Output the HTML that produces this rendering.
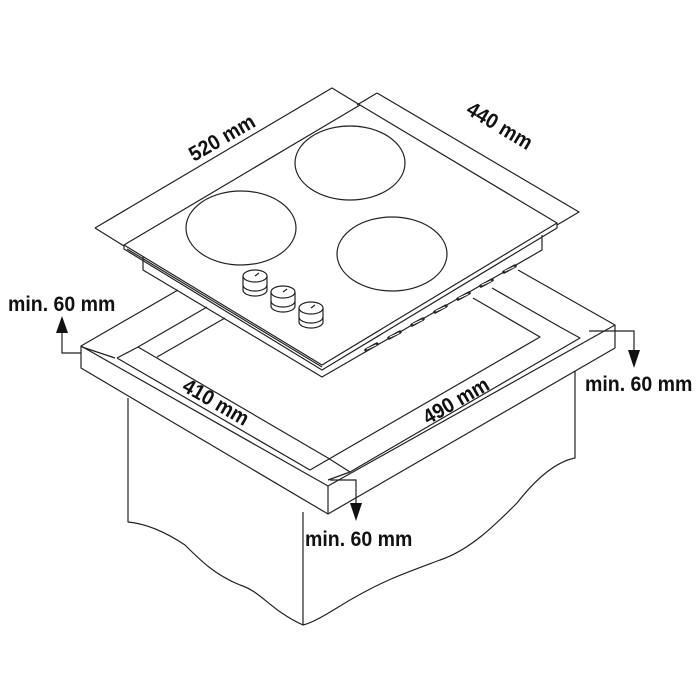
<!DOCTYPE html>
<html><head><meta charset="utf-8"><style>
html,body{margin:0;padding:0;background:#fff;}
svg{display:block;}
text{font-family:"Liberation Sans",sans-serif;font-weight:bold;fill:#111;}
</style></head><body>
<svg width="700" height="700" viewBox="0 0 700 700" xmlns="http://www.w3.org/2000/svg">
<g fill="none" stroke="#222" stroke-width="1.2" stroke-linejoin="round">
<!-- cabinet -->
<path d="M128,398 L128,522 C150,524 170,535 185,545 C200,560 215,575 240,585 C262,592 270,610 303,625 L303,512"/>
<path d="M575,347 L575,458 C555,462 535,480 517,503 C495,525 470,550 440,560 C400,575 385,580 350,600 C330,612 315,622 303,625"/>
<!-- countertop -->
<path d="M81,346 L328,486 L615,325 L615,348 L328,514 L81,368 Z" fill="#fff"/>
<path d="M328,486 L328,514"/>
<path d="M81,346 L178,290"/>
<path d="M615,325 L518,270"/>
<!-- left side -->
<path d="M82,347 L115,358"/>
<path d="M138,347 L207,307"/>
<path d="M157,357 L225,318"/>
<path d="M117,358 L138,347"/>
<path d="M117,358 L310,470 L540,337 L473,298"/>
<path d="M138,347 L328,458 L350,472"/>
<!-- right side -->
<path d="M560,327 L492,288"/>
<path d="M350,472 L580,338 L560,327"/>
<path d="M328,480 L350,472"/>
<!-- hob -->
<path d="M143,255 L143,270 L322,377 L542,250 L542,235"/>
<path d="M124,245 L360,105 L557,223 L322,365 Z" fill="#fff"/>
<path d="M124,245 L124,249 L322,370 L557,228 L557,223"/>
<path d="M127,249 L322,367"/>
<!-- burners -->
<ellipse cx="350" cy="163" rx="55" ry="37"/>
<ellipse cx="241" cy="228" rx="55" ry="37"/>
<ellipse cx="392" cy="254" rx="55" ry="37"/>
<!-- dim lines -->
<path d="M95,228 L332,88 L360,105"/>
<path d="M95,228 L124,246"/>
<path d="M377,93 L579,212 L557,225"/>
<path d="M377,93 L357,105"/>
</g>
<!-- knobs -->
<g fill="#fff" stroke="#222" stroke-width="1.2">
<g transform="translate(255,276)"><path d="M-12,0 L-12,14 A12,6 0 0 0 12,14 L12,0"/><path d="M-12,9 A12,6 0 0 0 12,9" fill="none"/><ellipse cx="0" cy="0" rx="12" ry="6"/><path d="M0,0 L4,-3"/></g>
<g transform="translate(283,292)"><path d="M-12,0 L-12,14 A12,6 0 0 0 12,14 L12,0"/><path d="M-12,9 A12,6 0 0 0 12,9" fill="none"/><ellipse cx="0" cy="0" rx="12" ry="6"/><path d="M0,0 L4,-3"/></g>
<g transform="translate(311,308)"><path d="M-12,0 L-12,14 A12,6 0 0 0 12,14 L12,0"/><path d="M-12,9 A12,6 0 0 0 12,9" fill="none"/><ellipse cx="0" cy="0" rx="12" ry="6"/><path d="M0,0 L4,-3"/></g>
</g>
<!-- vents -->
<g stroke="#222" stroke-width="3.4" stroke-linecap="round">
<path d="M366,350 L377,344"/><path d="M389,338 L400,332"/><path d="M412,325 L423,319"/><path d="M435,312 L446,306"/><path d="M458,299 L469,293"/><path d="M481,286 L492,280"/><path d="M504,272 L515,266"/>
</g>
<g stroke="#fff" stroke-width="1" stroke-linecap="round">
<path d="M367,349 L376,345"/><path d="M390,337 L399,333"/><path d="M413,324 L422,320"/><path d="M436,311 L445,307"/><path d="M459,298 L468,294"/><path d="M482,285 L491,281"/><path d="M505,271 L514,267"/>
</g>
<!-- arrows -->
<g fill="none" stroke="#222" stroke-width="1.2">
<path d="M81,353 L62,353 L62,328"/>
<path d="M589,331 L634,331 L634,352"/>
<path d="M330,480 L356,480 L356,505"/>
</g>
<g fill="#111">
<path d="M56,333 L62,316 L68,333 Z"/>
<path d="M628,350 L634,368 L640,350 Z"/>
<path d="M350,503 L356,521 L362,503 Z"/>
</g>
<!-- labels -->
<g font-size="21">
<text x="0" y="0" transform="translate(194,162) rotate(-30) scale(0.93,1)">520 mm</text>
<text x="0" y="0" transform="translate(465,113) rotate(31) scale(0.93,1)">440 mm</text>
<text x="0" y="0" transform="translate(181,390) rotate(30) scale(0.93,1)">410 mm</text>
<text x="0" y="0" transform="translate(428,425) rotate(-30) scale(0.93,1)">490 mm</text>
<text x="0" y="0" transform="translate(8,311) scale(0.93,1)">min. 60 mm</text>
<text x="0" y="0" transform="translate(585,391) scale(0.93,1)">min. 60 mm</text>
<text x="0" y="0" transform="translate(305,546) scale(0.93,1)">min. 60 mm</text>
</g>
</svg>
</body></html>
